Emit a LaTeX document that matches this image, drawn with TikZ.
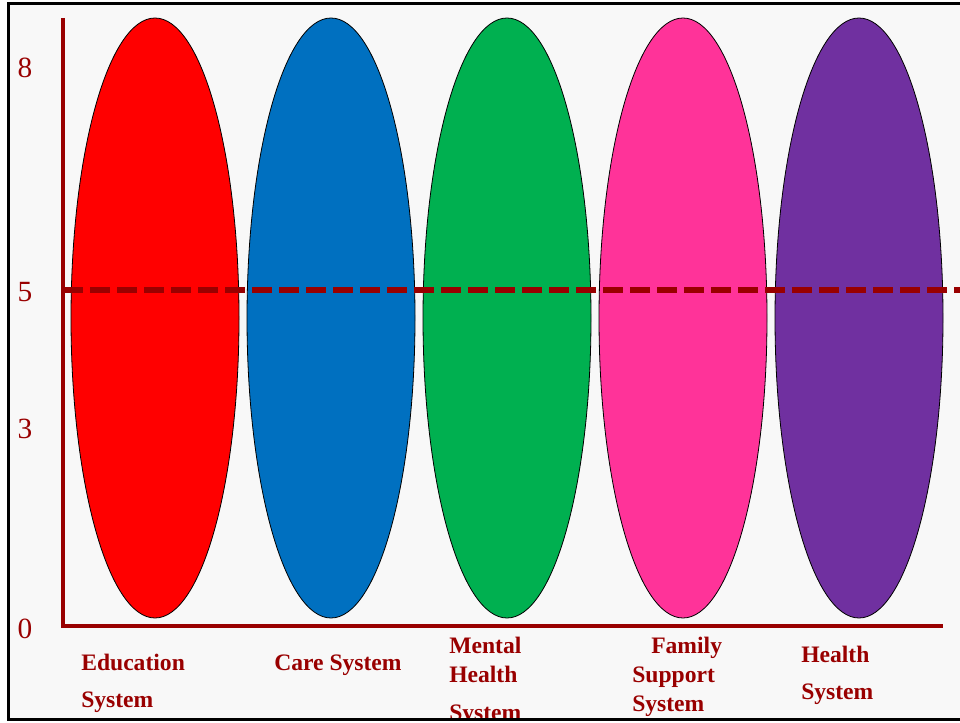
\documentclass[tikz,border=0pt]{standalone}
\usepackage{fontspec}
\setmainfont{Liberation Serif}
\definecolor{axisred}{HTML}{990000}
\definecolor{paper}{HTML}{F8F8F8}
\definecolor{edured}{HTML}{FF0000}
\definecolor{careblue}{HTML}{0070C0}
\definecolor{mhgreen}{HTML}{00B050}
\definecolor{fampink}{HTML}{FF3399}
\definecolor{hlthpurple}{HTML}{7030A0}
\begin{document}
\begin{tikzpicture}
 [x=0.75pt,y=-0.75pt,every node/.style={inner sep=0pt,text=axisred},
  tick/.style={font=\fontsize{22}{26}\selectfont,anchor=base},
  syslabel/.style={font=\fontsize{17.7}{21}\selectfont\bfseries,anchor=base west}]
  \useasboundingbox (0,0) rectangle (960,723);
  \fill[white] (0,0) rectangle (960,723);
  \fill[paper] (8.5,3.3) rectangle (965,719.5);

  \foreach \cx/\col in {155/edured,331/careblue,507/mhgreen,683/fampink,859/hlthpurple}
    \draw[fill=\col,line width=0.6pt] (\cx,318) ellipse [x radius=84,y radius=300];

  \coordinate (ytop) at (63,18);
  \coordinate (orig) at (63,626);
  \coordinate (xend) at (943,626);
  \coordinate (half) at (63,290);
  \coordinate (halfend) at (960,290);
  \draw[axisred,line width=3pt] (ytop) -- (orig) -- (xend);
  \draw[axisred,line width=4.4pt,dash pattern=on 15pt off 5.25pt] (half) -- (halfend);

  \node[tick] (t8) at (25,78)  {8};
  \node[tick] (t5) at (25,302) {5};
  \node[tick] (t3) at (25,438) {3};
  \node[tick] (t0) at (25,638) {0};

  \node[syslabel] (edu1) at (81,670) {Education};
  \node[syslabel] (edu2) at (81,707) {System};
  \node[syslabel] (care) at (274,670) {Care System};
  \node[syslabel] (mh1) at (449,653) {Mental};
  \node[syslabel] (mh2) at (449,682) {Health};
  \node[syslabel] (mh3) at (449,720) {System};
  \node[syslabel] (fam1) at (651,653) {Family};
  \node[syslabel] (fam2) at (632,682) {Support};
  \node[syslabel] (fam3) at (632,711) {System};
  \node[syslabel] (hl1) at (801,662) {Health};
  \node[syslabel] (hl2) at (801,699) {System};

  \fill[white] (0,721) rectangle (960,723);
  \draw[line width=2.4pt] (965,3.3) -- (8.5,3.3) -- (8.5,719.5) -- (965,719.5);
\end{tikzpicture}
\end{document}
